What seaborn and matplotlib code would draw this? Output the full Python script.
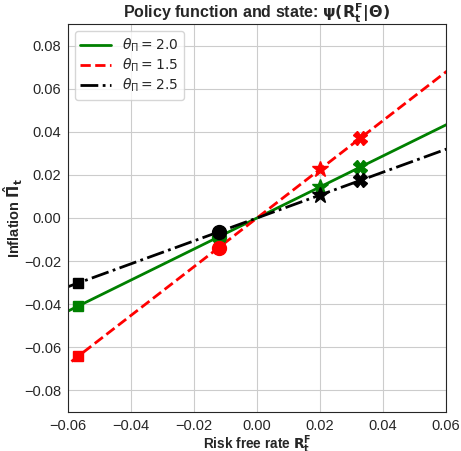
import matplotlib
matplotlib.use("Agg")
import matplotlib.pyplot as plt
import seaborn as sns
import pandas as pd

# Policy function grid (risk free rate) and inflation response for each theta_Pi
rf_grid = [-0.07, 0.0, 0.07]
pi_theta20 = [-0.0504, 0.0, 0.0504]
pi_theta15 = [-0.0791, 0.0, 0.0791]
pi_theta25 = [-0.0372, 0.0, 0.0372]

# State points
state_rf = [-0.0568, -0.0121, 0.0200, 0.0327]
state_pi20 = [-0.0409, -0.0087, 0.0144, 0.0235]
state_pi15 = [-0.0642, -0.0137, 0.0226, 0.0370]
state_pi25 = [-0.0302, -0.0064, 0.0106, 0.0174]
state_markers = ["s", "o", "*", "X"]
state_sizes = [7, 10, 12, 10]

series = [
    (r"$\theta_\Pi = 2.0$", pi_theta20, state_pi20, "green", "-"),
    (r"$\theta_\Pi = 1.5$", pi_theta15, state_pi15, "red", "--"),
    (r"$\theta_\Pi = 2.5$", pi_theta25, state_pi25, "black", "-."),
]

sns.set_style("white", {"axes.grid": True, "grid.color": ".8", "axes.edgecolor": ".15"})
plt.rcParams["font.family"] = ["Liberation Sans", "DejaVu Sans"]
plt.rcParams["mathtext.fontset"] = "dejavusans"

fig = plt.figure(figsize=(4.61, 4.51), dpi=100)
ax = fig.add_axes([0.1475, 0.0865, 0.82, 0.8603])

for label, pis, states, color, ls in series:
    df = pd.DataFrame({"rf": rf_grid, "pi": pis})
    sns.lineplot(data=df, x="rf", y="pi", ax=ax, color=color, linestyle=ls,
                 linewidth=2, label=label, sort=False)

for label, pis, states, color, ls in series:
    for xr, yp, m, s in zip(state_rf, states, state_markers, state_sizes):
        ax.plot([xr], [yp], marker=m, markersize=s, color=color, linestyle="none", zorder=3)

ax.set_xlim(-0.06, 0.06)
ax.set_ylim(-0.09, 0.09)
ax.set_xticks([-0.06, -0.04, -0.02, 0.0, 0.02, 0.04, 0.06])
ax.set_yticks([-0.08, -0.06, -0.04, -0.02, 0.0, 0.02, 0.04, 0.06, 0.08])
ax.tick_params(labelsize=10.5, colors=".15", pad=1.5)
ax.set_xlabel(r"Risk free rate $\mathbf{R_t^F}$", fontsize=9.8, fontweight="bold", labelpad=0)
ax.set_ylabel(r"Inflation $\mathbf{\hat{\Pi}_t}$", fontsize=10.5, fontweight="bold", labelpad=-1)
ax.set_title(r"Policy function and state: $\mathbf{\psi(R_t^F|\Theta)}$", fontsize=11.5,
             fontweight="bold", pad=4)
ax.legend(loc="upper left", fontsize=10, labelspacing=0.2, handlelength=2.2)

fig.savefig("out.png", dpi=100)
